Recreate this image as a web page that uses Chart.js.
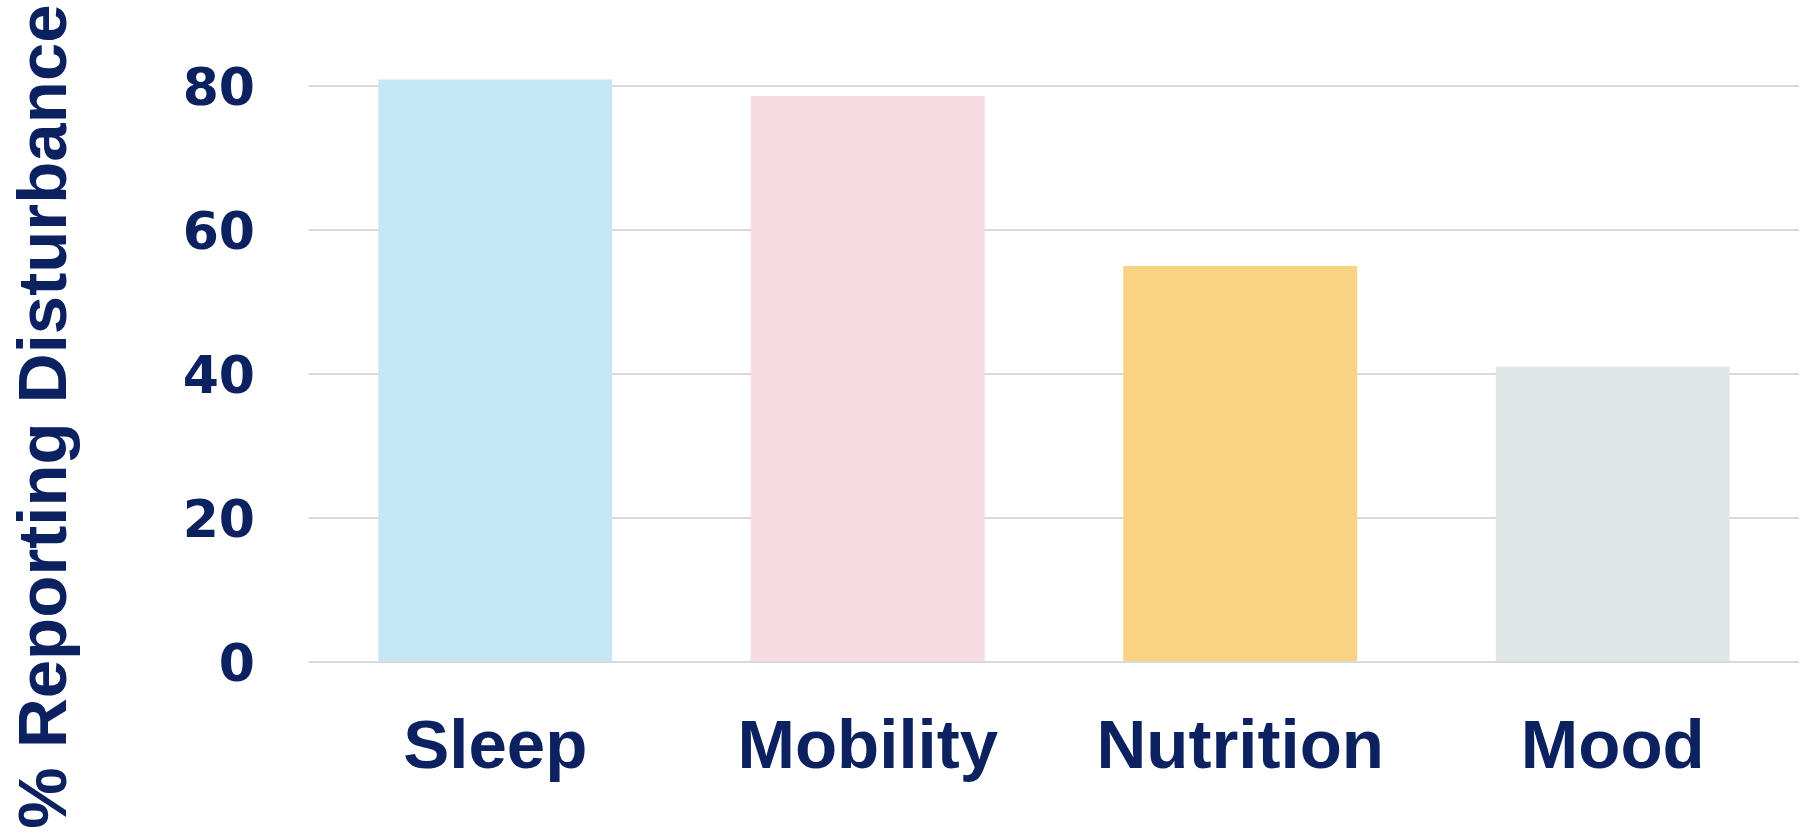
<!DOCTYPE html>
<html>
<head>
    <meta charset="utf-8">
    <title>% Reporting Disturbance</title>
    <script src="https://cdn.jsdelivr.net/npm/chart.js@4.4.1/dist/chart.umd.min.js"></script>
    <style>
        html, body { margin: 0; padding: 0; background: #ffffff; }
        #wrap { width: 1806px; height: 833px; position: relative; }
    </style>
</head>
<body>
    <div id="wrap">
        <canvas id="myChart"></canvas>
    </div>

    <script>
        // data
        const categories = ['Sleep', 'Mobility', 'Nutrition', 'Mood'];
        const percentReporting = [80.9, 78.6, 55.0, 41.0];
        const barColors = ['#c5e6f5', '#f8dae3', '#f9d283', '#e0e6e6'];
        const yTicks = [0, 20, 40, 60, 80];
        const yTitle = '% Reporting Disturbance';

        const NAVY = '#0b2160';
        const FONT = '"Liberation Sans", Arial, sans-serif';
        const TICK_FONT = '"DejaVu Sans", "Liberation Sans", sans-serif';

        // y title centred on the whole canvas height, like the reference
        const yTitlePlugin = {
            id: 'yTitle',
            afterDraw(chart) {
                const c = chart.ctx;
                c.save();
                c.translate(66, chart.height / 2);
                c.rotate(-Math.PI / 2);
                c.fillStyle = NAVY;
                c.font = 'bold 69px ' + FONT;
                c.textAlign = 'center';
                c.textBaseline = 'alphabetic';
                c.fillText(yTitle, 0, 0);
                c.restore();
            }
        };

        const ctx = document.getElementById('myChart').getContext('2d');
        const myChart = new Chart(ctx, {
            type: 'bar',
            data: {
                labels: categories,
                datasets: [{
                    label: yTitle,
                    data: percentReporting,
                    backgroundColor: barColors,
                    borderWidth: 0,
                    categoryPercentage: 1.0,
                    barPercentage: 0.628
                }]
            },
            options: {
                responsive: true,
                maintainAspectRatio: false,
                animation: false,
                layout: {
                    padding: { top: 50, right: 7, bottom: 0, left: 0 }
                },
                plugins: {
                    legend: { display: false },
                    tooltip: { enabled: false },
                    title: { display: false }
                },
                scales: {
                    x: {
                        grid: { display: false },
                        border: { display: false },
                        ticks: {
                            color: NAVY,
                            padding: 38,
                            font: { family: FONT, size: 69, weight: 'bold' }
                        },
                        afterFit(scale) { scale.height = 171; }
                    },
                    y: {
                        min: 0,
                        max: 85,
                        afterBuildTicks(scale) {
                            scale.ticks = yTicks.map(v => ({ value: v }));
                        },
                        grid: {
                            color: '#d9d9d9',
                            lineWidth: 2,
                            drawTicks: false
                        },
                        border: { display: false },
                        ticks: {
                            color: NAVY,
                            padding: 54,
                            labelOffset: 5,
                            font: { family: TICK_FONT, size: 52, weight: 'bold' }
                        },
                        afterFit(scale) {
                            scale.width = 309;
                            // tick padding would otherwise push the plot area down
                            scale.paddingTop = 0;
                            scale.paddingBottom = 0;
                        }
                    }
                }
            },
            plugins: [yTitlePlugin]
        });
    </script>
</body>
</html>
